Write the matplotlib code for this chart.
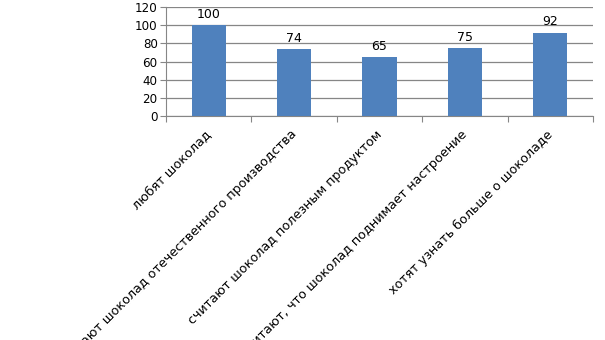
import numpy as np
from matplotlib import pyplot as plt

categories = ['любят шоколад',
              'покупают шоколад отечественного производства',
              'считают шоколад полезным продуктом',
              'считают, что шоколад поднимает настроение',
              'хотят узнать больше о шоколаде']
values = [100, 74, 65, 75, 92]
yticks = [0, 20, 40, 60, 80, 100, 120]

plt.rcParams['font.family'] = ['DejaVu Sans']
plt.rcParams['font.size'] = 8.6

fig = plt.figure(figsize=(6.05, 3.4), dpi=100)
ax = fig.add_axes([0.2744, 0.659, 0.7058, 0.32])

x = np.arange(len(values))
bars = ax.bar(x, values, width=0.4, color='#4F81BD', zorder=3)
for b, v in zip(bars, values):
    ax.annotate(str(v), (b.get_x() + b.get_width() / 2, v), xytext=(0, 3),
                textcoords='offset points', ha='center', va='bottom',
                fontsize=9)

ax.set_xlim(-0.5, len(values) - 0.5)
ax.set_ylim(0, 120)
ax.set_yticks(yticks)
ax.yaxis.grid(True, color='#868686', linewidth=0.9, zorder=0)

# category boundary ticks
ax.set_xticks(np.arange(-0.5, len(values)))
ax.set_xticklabels([])
ax.tick_params(axis='x', length=4, color='#868686')
ax.tick_params(axis='y', length=4, color='#868686', pad=2)
for i, lab in enumerate(categories):
    ax.annotate(lab, (i, 0), xytext=(-3, -8.5), textcoords='offset points',
                ha='right', va='top', rotation=45, rotation_mode='anchor',
                fontsize=9.2, annotation_clip=False)

for s in ['top', 'right']:
    ax.spines[s].set_visible(False)
for s in ['left', 'bottom']:
    ax.spines[s].set_color('#868686')

fig.savefig('out.png', dpi=100)
